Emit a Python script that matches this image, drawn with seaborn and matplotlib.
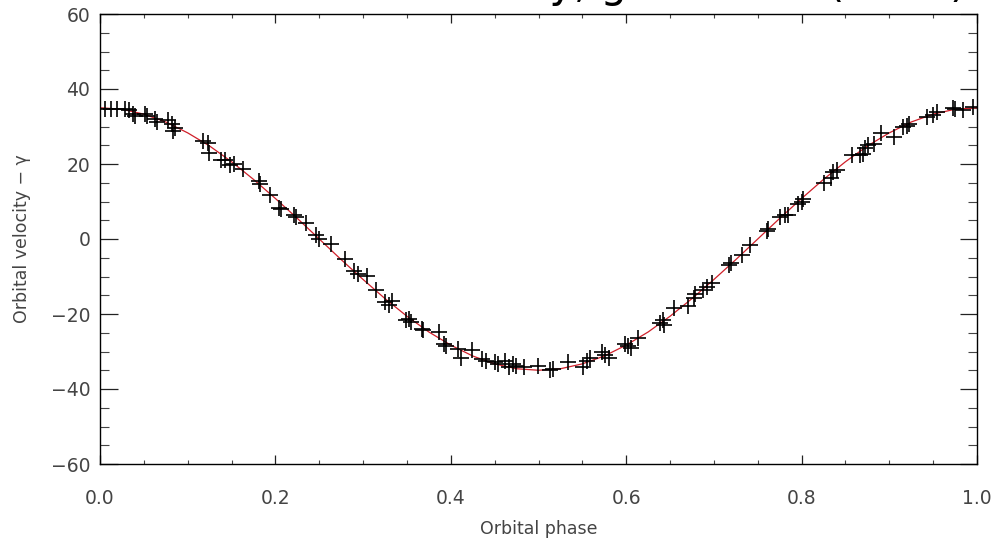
import numpy as np
import pandas as pd
import matplotlib
matplotlib.use("Agg")
import matplotlib.pyplot as plt
from matplotlib.ticker import MultipleLocator
import seaborn as sns

# Observed points (orbital phase, velocity - gamma)
phase_obs = [0.006, 0.012, 0.019, 0.029, 0.033, 0.038, 0.040, 0.051, 0.054, 0.063, 0.065, 0.078,
             0.082, 0.083, 0.085, 0.117, 0.123, 0.124, 0.138, 0.142, 0.148, 0.153, 0.163, 0.181,
             0.182, 0.194, 0.204, 0.206, 0.221, 0.223, 0.235, 0.246, 0.250, 0.263, 0.279, 0.290,
             0.294, 0.304, 0.315, 0.325, 0.329, 0.333, 0.349, 0.352, 0.355, 0.367, 0.368, 0.386,
             0.392, 0.395, 0.408, 0.412, 0.424, 0.436, 0.440, 0.450, 0.454, 0.462, 0.466, 0.471,
             0.474, 0.483, 0.499, 0.513, 0.517, 0.534, 0.551, 0.555, 0.559, 0.572, 0.576, 0.580,
             0.599, 0.602, 0.606, 0.614, 0.639, 0.642, 0.643, 0.654, 0.671, 0.677, 0.679, 0.688,
             0.692, 0.698, 0.717, 0.720, 0.732, 0.741, 0.760, 0.762, 0.775, 0.781, 0.785, 0.796,
             0.800, 0.802, 0.825, 0.834, 0.836, 0.840, 0.857, 0.867, 0.870, 0.872, 0.876, 0.882,
             0.891, 0.905, 0.916, 0.920, 0.922, 0.943, 0.950, 0.954, 0.973, 0.975, 0.984, 0.996]
vel_obs = [34.7, 34.6, 34.7, 34.7, 34.4, 33.4, 32.7, 33.2, 32.7, 31.9, 31.3, 31.7,
           30.7, 28.7, 29.7, 26.1, 25.7, 23.0, 21.2, 21.0, 19.7, 20.1, 18.7, 15.4,
           14.6, 11.7, 8.4, 7.9, 6.4, 5.8, 4.3, 1.0, 0.0, -1.3, -5.4, -8.6,
           -9.2, -9.9, -13.5, -16.9, -17.5, -16.5, -21.5, -21.3, -22.1, -24.0, -24.3, -24.8,
           -27.9, -28.5, -29.2, -31.7, -29.6, -32.1, -32.5, -32.9, -33.3, -32.5, -34.2, -33.3,
           -33.8, -34.2, -33.8, -35.0, -34.6, -32.7, -34.2, -32.5, -31.7, -30.2, -30.8, -31.7,
           -27.9, -28.5, -29.0, -26.3, -22.5, -21.7, -22.9, -18.4, -17.8, -15.6, -14.6, -13.7,
           -12.9, -11.6, -6.9, -6.4, -4.3, -1.7, 2.1, 2.6, 5.8, 6.4, 6.4, 9.4,
           9.9, 10.7, 15.0, 16.3, 18.0, 18.4, 22.3, 22.3, 22.7, 24.4, 25.0, 25.3,
           28.4, 27.2, 29.8, 30.2, 30.7, 32.6, 33.0, 33.8, 35.0, 34.7, 34.4, 35.1]

# Fitted orbit (red curve)
phase_fit = [0.0, 0.025, 0.05, 0.075, 0.1, 0.125, 0.15, 0.175, 0.2, 0.225, 0.25, 0.275, 0.3,
             0.325, 0.35, 0.375, 0.4, 0.425, 0.45, 0.475, 0.5, 0.525, 0.55, 0.575, 0.6, 0.625,
             0.65, 0.675, 0.7, 0.725, 0.75, 0.775, 0.8, 0.825, 0.85, 0.875, 0.9, 0.925, 0.95,
             0.975, 1.0]
vel_fit = [35.0, 34.6, 33.3, 31.2, 28.3, 24.8, 20.6, 15.9, 10.8, 5.5, 0.0, -5.5, -10.8,
           -15.9, -20.6, -24.8, -28.3, -31.2, -33.3, -34.6, -35.0, -34.6, -33.3, -31.2, -28.3, -24.8,
           -20.6, -15.9, -10.8, -5.5, 0.0, 5.5, 10.8, 15.9, 20.6, 24.8, 28.3, 31.2, 33.3,
           34.6, 35.0]

x_ticks = [0.0, 0.2, 0.4, 0.6, 0.8, 1.0]
y_ticks = [-60, -40, -20, 0, 20, 40, 60]

sns.set_theme(style="white")
plt.rcParams['font.family'] = ['DejaVu Sans']

fig = plt.figure(figsize=(9.94, 5.41), dpi=100)
ax = fig.add_axes([100 / 994, 1 - 464 / 541, 877 / 994, 450 / 541])

df_obs = pd.DataFrame({"phase": phase_obs, "vel": vel_obs})
df_fit = pd.DataFrame({"phase": phase_fit, "vel": vel_fit})

sns.lineplot(data=df_fit, x="phase", y="vel", ax=ax, color="#d0202a", linewidth=0.9,
             sort=True, zorder=1)
sns.scatterplot(data=df_obs, x="phase", y="vel", ax=ax, marker="+", s=130,
                color="black", linewidth=1.2, zorder=2)

ax.set_xlim(0, 1)
ax.set_ylim(-60, 60)
ax.set_xticks(x_ticks)
ax.set_yticks(y_ticks)
ax.set_xticklabels([f"{t:.1f}" for t in x_ticks])
ax.set_yticklabels([str(t).replace("-", "\u2212") for t in y_ticks])
ax.xaxis.set_minor_locator(MultipleLocator(0.05))
ax.yaxis.set_minor_locator(MultipleLocator(5))

ax.tick_params(axis="x", which="major", direction="in", length=6.5, width=0.9,
               top=True, bottom=True, pad=18, labelsize=13.5, labelcolor="#444444", color="#222222")
ax.tick_params(axis="x", which="minor", direction="in", length=3.2, width=0.8,
               top=True, bottom=True, color="#444444")
ax.tick_params(axis="y", which="major", direction="in", length=12.6, width=0.9,
               left=True, right=True, pad=7, labelsize=13.5, labelcolor="#444444", color="#222222")
ax.tick_params(axis="y", which="minor", direction="in", length=6.3, width=0.8,
               left=True, right=True, color="#444444")

for s in ax.spines.values():
    s.set_color("black")
    s.set_linewidth(1.0)
    s.set_visible(True)

ax.set_xlabel("Orbital phase", fontsize=12.5, color="#444444", labelpad=9)
ax.set_ylabel("Orbital velocity \u2212 \u03b3", fontsize=12.5, color="#444444", labelpad=14)

# Title, mostly cut off by the top edge of the image (as in the reference)
fig.text(0.972, 1.0 + 3 / 541, "Orbital velocity, gamma fit (2005)", ha="right",
         va="baseline", fontsize=30, color="black")

fig.savefig("out.png", dpi=100)
